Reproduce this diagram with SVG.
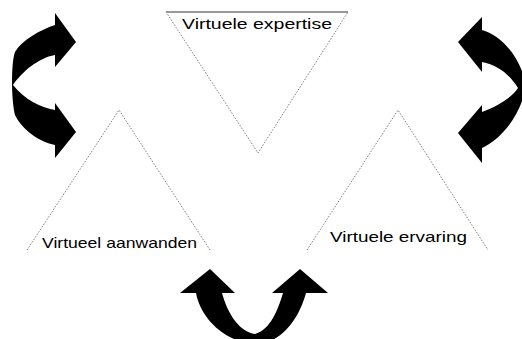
<svg xmlns="http://www.w3.org/2000/svg" width="522" height="339" viewBox="0 0 522 339">
<style>
.dot{fill:none;stroke:#808080;stroke-width:1;stroke-dasharray:1.5 1.5}
.lbl{font-family:"Liberation Sans",Arial,sans-serif;font-size:15px;fill:#000}
.arr{fill:#000;stroke:none}
</style>
<rect width="522" height="339" fill="#fff"/>
<g id="expertise">
<polyline class="dot" points="166,12 258,153 348,12"/>
<line x1="166" y1="12" x2="348" y2="12" stroke="#999" stroke-width="2"/>
<text class="lbl" x="182" y="29" textLength="150" lengthAdjust="spacingAndGlyphs">Virtuele expertise</text>
</g>
<g id="aanwenden">
<polyline class="dot" points="27,250 119,110 210,250"/>
<text class="lbl" x="42" y="248" textLength="155" lengthAdjust="spacingAndGlyphs">Virtueel aanwanden</text>
</g>
<g id="ervaring">
<polyline class="dot" points="307,250 398,110 488,250"/>
<text class="lbl" x="330" y="242" textLength="137" lengthAdjust="spacingAndGlyphs">Virtuele ervaring</text>
</g>
<g id="connectors">
<path class="arr" d="M76,42 L55,13 L55,25 C40,30 22,40 15,52 C11,62 11,100 15,115 C22,130 40,142 55,145 L55,158 L76,132 L55,103 L55,110 C40,107 25,100 13,85 C22,72 38,58 55,55 L55,67 Z"/>
<path class="arr" d="M458,42 L482,17 L482,30 C500,35 520,55 526,85 C522,115 500,140 482,148 L482,163 L458,133 L482,105 L482,112 C500,105 512,97 518,88 C510,75 498,65 482,62 L482,72 Z"/>
<path class="arr" d="M210,269 L180,293 L196,293 C200,315 220,340 255,345 C285,342 300,315 306,293 L328,293 L300,269 L272,293 L283,293 C278,310 270,330 255,334 C240,332 228,315 222,293 L235,293 Z"/>
</g>
</svg>
